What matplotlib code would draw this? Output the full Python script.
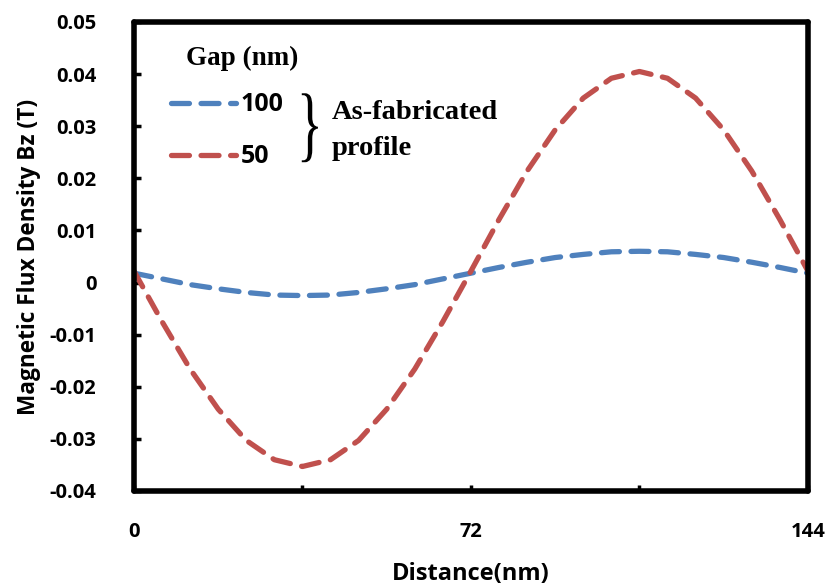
import matplotlib
matplotlib.use("Agg")
import matplotlib.pyplot as plt
from matplotlib.ticker import FixedLocator
from matplotlib.textpath import TextPath
from matplotlib.patches import PathPatch
from matplotlib.font_manager import FontProperties
from matplotlib.transforms import Affine2D

# distance along the profile (nm)
distance = [0, 6, 12, 18, 24, 30, 36, 42, 48, 54, 60, 66, 72,
            78, 84, 90, 96, 102, 108, 114, 120, 126, 132, 138, 144]

# Bz (T) for each gap
bz_gap100 = [0.0018, 0.0007, -0.0004, -0.0012, -0.0019, -0.0024, -0.0025,
             -0.0024, -0.0019, -0.0012, -0.0004, 0.0007, 0.0018,
             0.0029, 0.0039, 0.0048, 0.0054, 0.0059, 0.0060,
             0.0059, 0.0054, 0.0048, 0.0039, 0.0029, 0.0018]
bz_gap50 = [0.0022, -0.0075, -0.0166, -0.0243, -0.0303, -0.0340, -0.0353,
            -0.0340, -0.0303, -0.0243, -0.0166, -0.0075, 0.0022,
            0.0121, 0.0214, 0.0293, 0.0354, 0.0392, 0.0405,
            0.0392, 0.0354, 0.0293, 0.0214, 0.0121, 0.0022]

series_labels = ["100", "50"]
colors = ["#4f81bd", "#c0504d"]

sans = ["Open Sans", "DejaVu Sans"]
serif = ["Liberation Serif", "DejaVu Serif"]

fig = plt.figure(figsize=(8.3, 5.88), dpi=100)
ax = fig.add_axes([0.1614, 0.165, 0.812, 0.7976])

for y, lab, c in zip([bz_gap100, bz_gap50], series_labels, colors):
    ax.plot(distance, y, color=c, lw=3.8, dashes=(3.4, 2.2),
            dash_capstyle="round", dash_joinstyle="round", label=lab)

ax.set_xlim(0, 144)
ax.set_ylim(-0.04, 0.05)
ax.set_xticks([0, 72, 144])
ax.xaxis.set_minor_locator(FixedLocator([36, 108]))
ax.set_yticks([-0.04, -0.03, -0.02, -0.01, 0, 0.01, 0.02, 0.03, 0.04, 0.05])
ax.set_yticklabels(["-0.04", "-0.03", "-0.02", "-0.01", "0", "0.01", "0.02",
                    "0.03", "0.04", "0.05"])

ax.tick_params(axis="x", which="both", direction="in", length=4, width=2.5, pad=22)
ax.tick_params(axis="y", direction="in", length=5, width=2.5, pad=27)
for lbl in ax.get_xticklabels() + ax.get_yticklabels():
    lbl.set_fontfamily(sans)
    lbl.set_fontweight("bold")
    lbl.set_fontsize(14.5)

for s in ax.spines.values():
    s.set_linewidth(4)
    s.set_capstyle("round")
    s.set_joinstyle("round")

ax.set_xlabel("Distance(nm)", family=sans, weight="bold", fontsize=17, labelpad=15)
ax.set_ylabel("Magnetic Flux Density Bz (T)", family=sans, weight="bold",
              fontsize=16.3, labelpad=6)

leg = ax.legend(loc="upper left", bbox_to_anchor=(0.021, 0.898), frameon=False,
                handlelength=2.6, handletextpad=0.2, labelspacing=1.08,
                prop={"family": sans, "weight": "bold", "size": 18})

ax.text(0.077, 0.923, "Gap (nm)", transform=ax.transAxes, family=serif,
        weight="bold", fontsize=19.5, va="center", ha="left")
ax.text(0.294, 0.808, "As-fabricated", transform=ax.transAxes, family=serif,
        weight="bold", fontsize=20.5, va="center", ha="left")
ax.text(0.294, 0.731, "profile", transform=ax.transAxes, family=serif,
        weight="bold", fontsize=20.5, va="center", ha="left")

# thin, tall brace: a serif "}" squeezed horizontally into a box in axes fraction
brace = TextPath((0, 0), "}", size=1, prop=FontProperties(family=serif))
ext = brace.get_extents()
bx, by, bw, bh = 0.249, 0.701, 0.024, 0.147
tr = (Affine2D().translate(-ext.x0, -ext.y0)
      .scale(bw / ext.width, bh / ext.height).translate(bx, by) + ax.transAxes)
ax.add_patch(PathPatch(brace, transform=tr, facecolor="black", edgecolor="none",
                       clip_on=False))

fig.savefig("out.png", dpi=100)
